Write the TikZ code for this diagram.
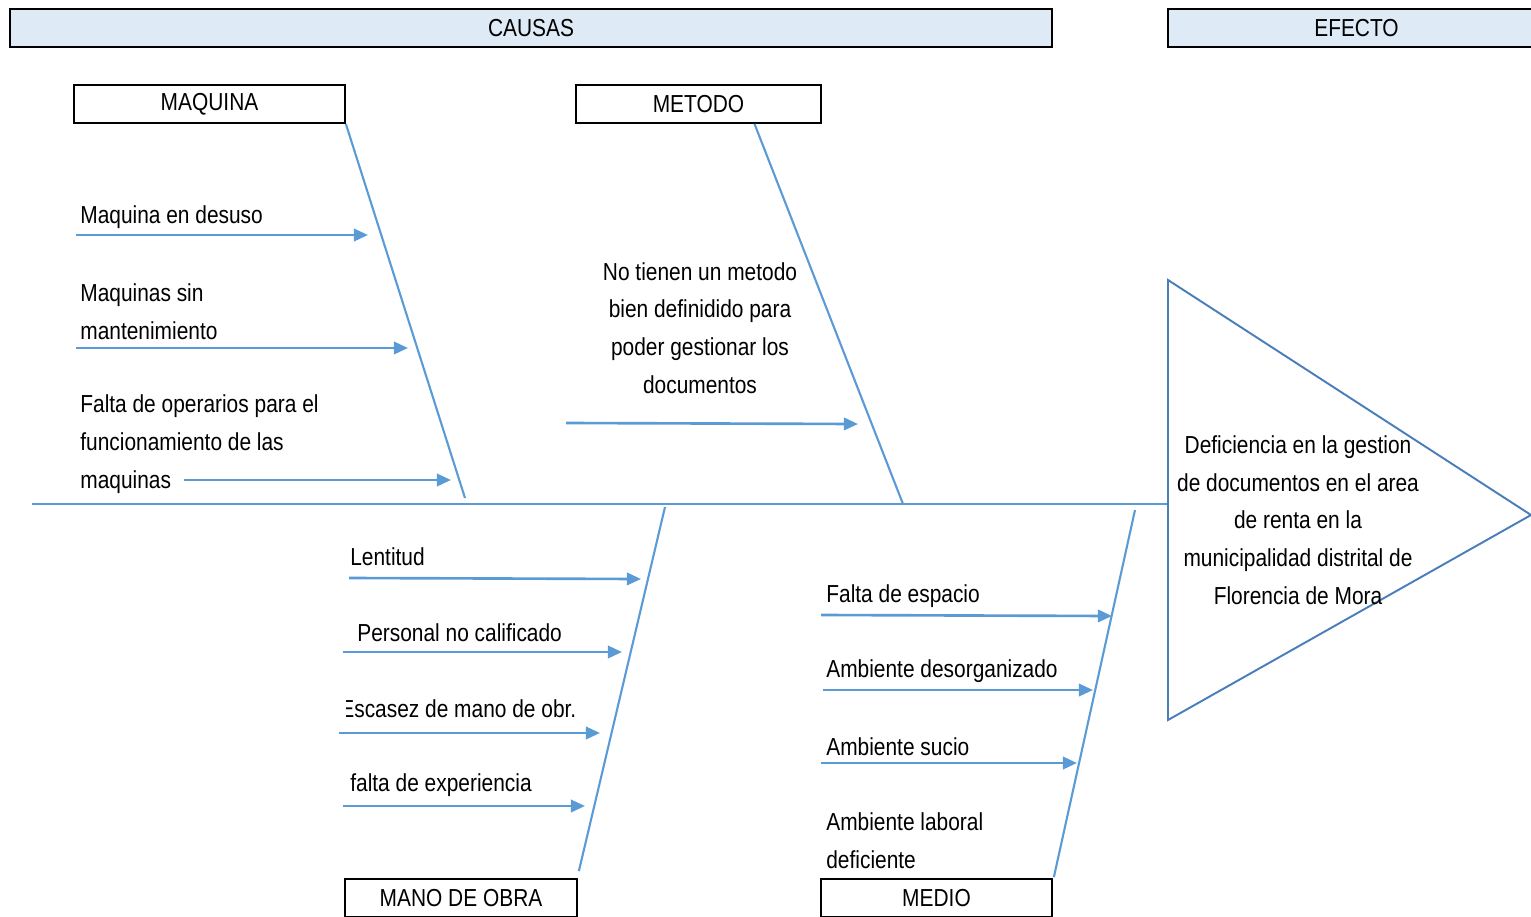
\documentclass[tikz,border=0pt]{standalone}
\usepackage{fontspec}
\setmainfont[FakeStretch=0.85]{Liberation Sans}
\usepackage{xcolor}
\usetikzlibrary{arrows.meta, positioning, calc}
\definecolor{fbblue}{HTML}{5B9BD5}
\definecolor{fbdark}{HTML}{4A7EBB}
\definecolor{fbfill}{HTML}{DEEAF6}

\begin{document}
\begin{tikzpicture}[x=0.02cm, y=-0.02cm,
  font=\fontsize{14}{21.5}\selectfont,
  head/.style={rectangle, draw=black, line width=1.3pt, fill=fbfill,
    minimum height=0.76cm, inner sep=0pt},
  cat/.style={rectangle, draw=black, line width=1pt, fill=white,
    minimum height=0.76cm, inner sep=0pt},
  bone/.style={draw=fbblue, line width=1.2pt},
  cause/.style={draw=fbblue, line width=1.5pt, -{Triangle[length=8pt, width=7pt]}},
  lbl/.style={inner sep=0pt, anchor=west, align=left},
]
  \useasboundingbox (0,0) rectangle (1531,916);

  \node[head, minimum width=20.84cm] (causas) at (531,28) {CAUSAS};
  \node[head, minimum width=7.54cm] (efecto) at (1356.5,28) {EFECTO};

  \node[cat, minimum width=5.42cm] (maq) at (209.5,104) {MAQUINA};
  \node[cat, minimum width=4.9cm] (met) at (698.5,104) {METODO};
  \node[cat, minimum width=4.64cm] (mano) at (461,898) {MANO DE OBRA};
  \node[cat, minimum width=4.62cm] (medio) at (936.5,898) {MEDIO};

  % espina y cabeza
  \coordinate (spinew) at (32,504);
  \coordinate (ta) at (1168,280);
  \coordinate (tb) at (1531,515);
  \coordinate (tc) at (1168,720);
  \draw[bone] (spinew) -- (ta |- spinew);
  \draw[fbdark, line width=1.1pt] (ta) -- (tb) -- (tc) -- cycle;
  \node[align=center, inner sep=0pt] (efe) at (1298,520) {Deficiencia en la gestion\\de documentos en el area\\de renta en la\\municipalidad distrital de\\Florencia de Mora};

  % huesos
  \coordinate (maqend) at (465,498);
  \coordinate (metend) at (903,504);
  \coordinate (manotop) at (665,507);
  \coordinate (medtop) at (1135,510);
  \draw[bone] (maq.south east) -- (maqend);
  \draw[bone] ($(met.south)+(56,0)$) -- (metend);
  \draw[bone] (manotop) -- ($(mano.north east)+(1,-7)$);
  \draw[bone] (medtop) -- ($(medio.north east)+(1,-1)$);

  % maquina
  \node[lbl] (m1) at (80,217) {Maquina en desuso};
  \node[lbl] (m2) at (80,312) {Maquinas sin\\mantenimiento};
  \node[lbl] (m3) at (80,444) {Falta de operarios para el\\funcionamiento de las\\maquinas};
  \draw[cause] (76,235) -- (368,235);
  \draw[cause] (76,348) -- (408,348);
  \draw[cause] (184,480) -- (451,480);

  % metodo
  \node[align=center, inner sep=0pt] (t1) at (700,328) {No tienen un metodo\\bien definidido para\\poder gestionar los\\documentos};
  \draw[cause] (566,423) -- (858,424);

  % mano de obra
  \node[lbl] (o1) at (350,557) {Lentitud};
  \node[lbl] (o2) at (357,633) {Personal no calificado};
  \begin{scope}
    \clip (346,690) rectangle (640,728);
    \node[lbl] (o3) at (340,709) {Escasez de mano de obr.};
  \end{scope}
  \node[lbl] (o4) at (350,785) {falta de experiencia};
  \draw[cause] (349,578) -- (641,579);
  \draw[cause] (343,652) -- (622,652);
  \draw[cause] (339,733) -- (600,733);
  \draw[cause] (343,806) -- (585,806);

  % medio
  \node[lbl] (e1) at (826,596) {Falta de espacio};
  \node[lbl] (e2) at (826,671) {Ambiente desorganizado};
  \node[lbl] (e3) at (826,747) {Ambiente sucio};
  \node[lbl] (e4) at (826,841) {Ambiente laboral\\deficiente};
  \draw[cause] (821,615) -- (1112,616);
  \draw[cause] (823,690) -- (1093,690);
  \draw[cause] (821,763) -- (1077,763);
\end{tikzpicture}
\end{document}
